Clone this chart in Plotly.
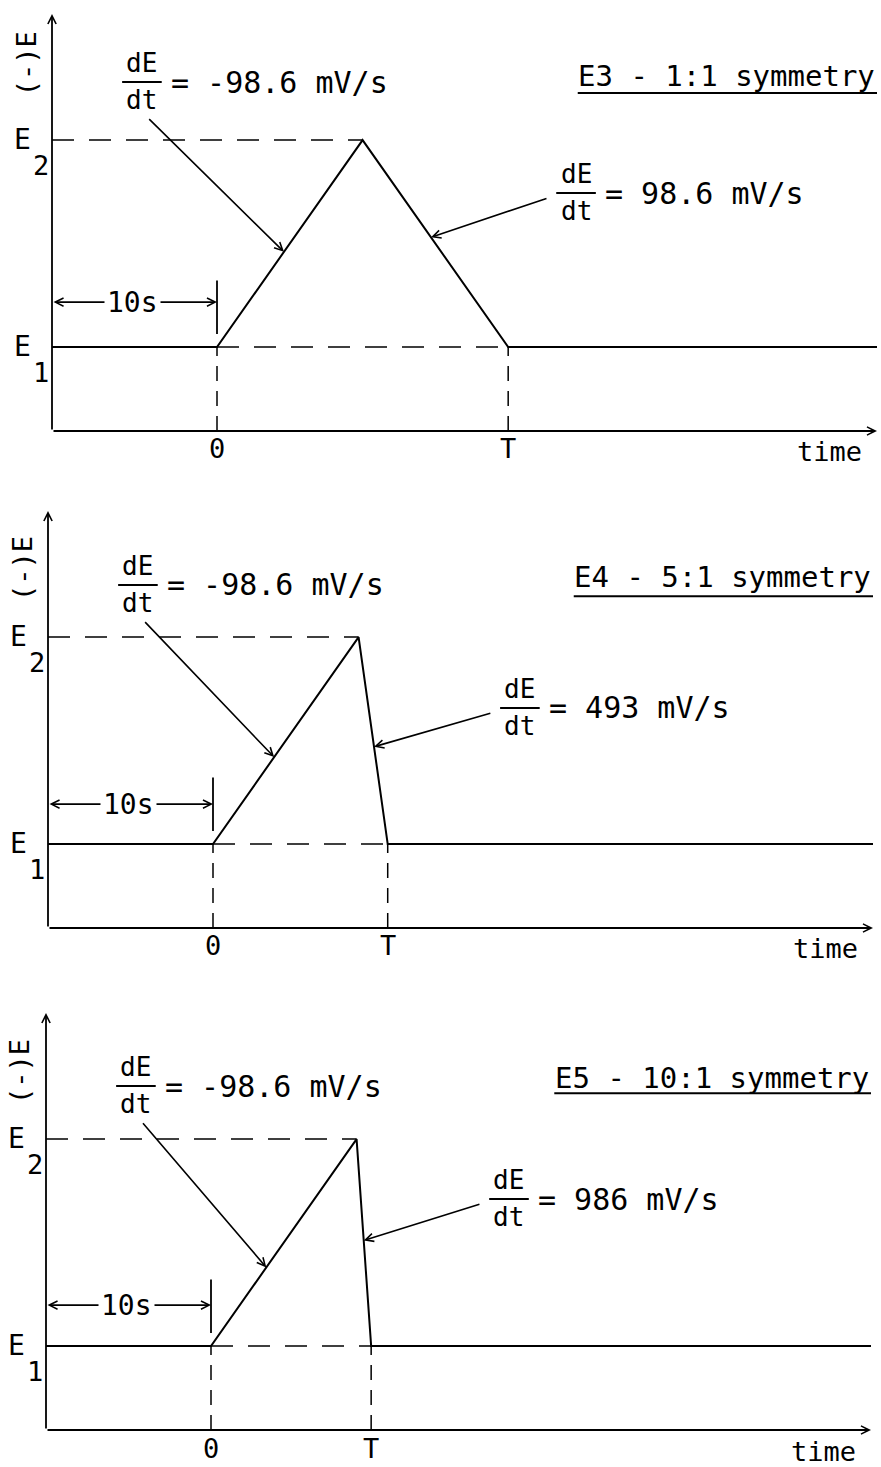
import plotly.graph_objects as go

# ---- waveform definitions -------------------------------------------------
panel_titles = ["E3 - 1:1 symmetry", "E4 - 5:1 symmetry", "E5 - 10:1 symmetry"]
forward_rates = [-98.6, -98.6, -98.6]      # dE/dt of the first ramp, mV/s
reverse_rates = [98.6, 493, 986]           # dE/dt of the return ramp, mV/s
E_SPAN = 870          # |E2 - E1|, mV
HOLD = 10             # hold at E1 before t = 0, s
T_END = 40            # end of the time axis, s
Y_RANGE = [-353, 1400]

# where the labelled pointers touch the ramps (fraction of E2 - E1)
up_pointer_frac = [0.46, 0.42, 0.38]
down_pointer_frac = [0.53, 0.47, 0.51]

# label anchor positions, in each panel's (t, -E) units
left_label_E = [1114, 1089, 1093]
left_label_t = -4.55
right_label_E = [647, 572, 618]
right_label_t = [21.76, 18.6, 18.06]
title_E = [1139, 1122, 1126]
underline_E = [1068, 1042, 1063]
ylabel_E = [1189, 1156, 1152]
hold_arrow_E = [189, 168, 172]

# ---- page geometry --------------------------------------------------------
W, H = 881, 1467
PX_PER_S = 16.5
PANEL_H = 417
x_left_px = [52, 48, 46]
y_bottom_px = [431, 928, 1430]

FONT = "DejaVu Sans Mono"
INK = "black"

fig = go.Figure()
annotations = []
shapes = []


def fmt(v):
    return f"{v:g}"


for i in range(3):
    n = "" if i == 0 else str(i + 1)
    xr, yr = "x" + n, "y" + n

    fwd, rev = forward_rates[i], reverse_rates[i]
    t_up = E_SPAN / abs(fwd)
    t_down = E_SPAN / abs(rev)
    T = t_up + t_down

    fig.add_trace(go.Scatter(
        x=[-HOLD, 0, t_up, T, T_END],
        y=[0, 0, E_SPAN, 0, 0],
        mode="lines", line=dict(color=INK, width=2),
        xaxis=xr, yaxis=yr, hoverinfo="skip", showlegend=False))

    l = x_left_px[i]
    b = y_bottom_px[i]
    fig.layout["xaxis" + n] = dict(
        domain=[l / W, (l + (T_END + HOLD) * PX_PER_S) / W],
        range=[-HOLD, T_END], visible=False, fixedrange=True,
        anchor=yr)
    fig.layout["yaxis" + n] = dict(
        domain=[1 - b / H, 1 - (b - PANEL_H) / H],
        range=Y_RANGE, visible=False, fixedrange=True, anchor=xr)

    y0 = Y_RANGE[0]
    dash_h = "22px,15px"
    dash_v = "15px,10px"

    # reference levels and time markers
    shapes += [
        dict(type="line", xref=xr, yref=yr, x0=-HOLD, x1=t_up, y0=E_SPAN, y1=E_SPAN,
             line=dict(color=INK, width=1.5, dash=dash_h), layer="below"),
        dict(type="line", xref=xr, yref=yr, x0=0, x1=T, y0=0, y1=0,
             line=dict(color=INK, width=1.5, dash=dash_h), layer="below"),
        dict(type="line", xref=xr, yref=yr, x0=0, x1=0, y0=y0, y1=0,
             line=dict(color=INK, width=1.5, dash=dash_v), layer="below"),
        dict(type="line", xref=xr, yref=yr, x0=T, x1=T, y0=y0, y1=0,
             line=dict(color=INK, width=1.5, dash=dash_v), layer="below"),
        dict(type="line", xref=xr, yref=yr, x0=0, x1=0, y0=55, y1=280,
             line=dict(color=INK, width=1.8)),
    ]

    # axes with arrowheads
    arrow_common = dict(text="", showarrow=True, arrowhead=5, arrowsize=0.9,
                        arrowwidth=1.8, arrowcolor=INK, standoff=0,
                        xref=xr, yref=yr, axref=xr, ayref=yr)
    annotations.append(dict(x=T_END, y=y0, ax=-HOLD, ay=y0, **arrow_common))
    annotations.append(dict(x=-HOLD, y=Y_RANGE[1], ax=-HOLD, ay=y0, **arrow_common))

    # 10 s hold interval
    annotations.append(dict(x=0, y=hold_arrow_E[i], ax=-HOLD, ay=hold_arrow_E[i],
                            arrowside="end+start", startarrowhead=5,
                            startarrowsize=0.9, **arrow_common))
    annotations.append(dict(x=-HOLD / 2 - 0.1, y=hold_arrow_E[i], xref=xr, yref=yr,
                            text="10s", showarrow=False, bgcolor="white", borderpad=2,
                            font=dict(family=FONT, size=28, color=INK)))

    # axis labels
    txt = dict(xref=xr, yref=yr, showarrow=False)
    annotations.append(dict(x=-HOLD, y=ylabel_E[i], xshift=-26, text="(-)E", textangle=-90,
                            font=dict(family=FONT, size=27, color=INK), **txt))
    annotations.append(dict(x=0, y=y0, yshift=-18, text="0",
                            font=dict(family=FONT, size=27, color=INK), **txt))
    annotations.append(dict(x=T, y=y0, yshift=-18, text="T",
                            font=dict(family=FONT, size=27, color=INK), **txt))
    annotations.append(dict(x=37.1, y=y0, yshift=-21, text="time",
                            font=dict(family=FONT, size=27, color=INK), **txt))
    for lev, sub in ((E_SPAN, "2"), (0, "1")):
        annotations.append(dict(x=-HOLD, y=lev, xshift=-30, yshift=1, text="E",
                                font=dict(family=FONT, size=28, color=INK), **txt))
        annotations.append(dict(x=-HOLD, y=lev, xshift=-11, yshift=-25, text=sub,
                                font=dict(family=FONT, size=27, color=INK), **txt))

    # panel title with underline
    annotations.append(dict(x=T_END, y=title_E[i], xanchor="right", text=panel_titles[i],
                            font=dict(family=FONT, size=29, color=INK), **txt))
    title_w = len(panel_titles[i]) * 0.602 * 29 / PX_PER_S
    shapes.append(dict(type="line", xref=xr, yref=yr, x0=T_END - title_w - 0.15,
                       x1=T_END + 0.1, y0=underline_E[i], y1=underline_E[i],
                       line=dict(color=INK, width=2)))

    # dE/dt labels with pointers
    def rate_label(cx, cy, rate, tail, tip):
        annotations.append(dict(x=cx, y=cy, yshift=19, text="dE",
                                font=dict(family=FONT, size=26, color=INK), **txt))
        annotations.append(dict(x=cx, y=cy, yshift=-18, text="dt",
                                font=dict(family=FONT, size=26, color=INK), **txt))
        shapes.append(dict(type="line", xref=xr, yref=yr, x0=cx - 1.2, x1=cx + 1.2,
                           y0=cy, y1=cy, line=dict(color=INK, width=2)))
        annotations.append(dict(x=cx + 1.65, y=cy, xanchor="left", yshift=0,
                                text="= " + fmt(rate) + " mV/s",
                                font=dict(family=FONT, size=30, color=INK), **txt))
        annotations.append(dict(x=tip[0], y=tip[1], ax=tail[0], ay=tail[1],
                                text="", showarrow=True, arrowhead=5, arrowsize=1.0,
                                arrowwidth=1.6, arrowcolor=INK, standoff=0,
                                xref=xr, yref=yr, axref=xr, ayref=yr))

    f = up_pointer_frac[i]
    rate_label(left_label_t, left_label_E[i], fwd,
               (left_label_t + 0.35, left_label_E[i] - 150),
               (f * t_up, f * E_SPAN))
    g = down_pointer_frac[i]
    rate_label(right_label_t[i], right_label_E[i], rev,
               (right_label_t[i] - 1.7, right_label_E[i] - 20),
               (t_up + (1 - g) * t_down, g * E_SPAN))

fig.update_layout(
    width=W, height=H, margin=dict(l=0, r=0, t=0, b=0),
    paper_bgcolor="white", plot_bgcolor="white",
    showlegend=False, annotations=annotations, shapes=shapes,
)

fig.write_html("out.html")
